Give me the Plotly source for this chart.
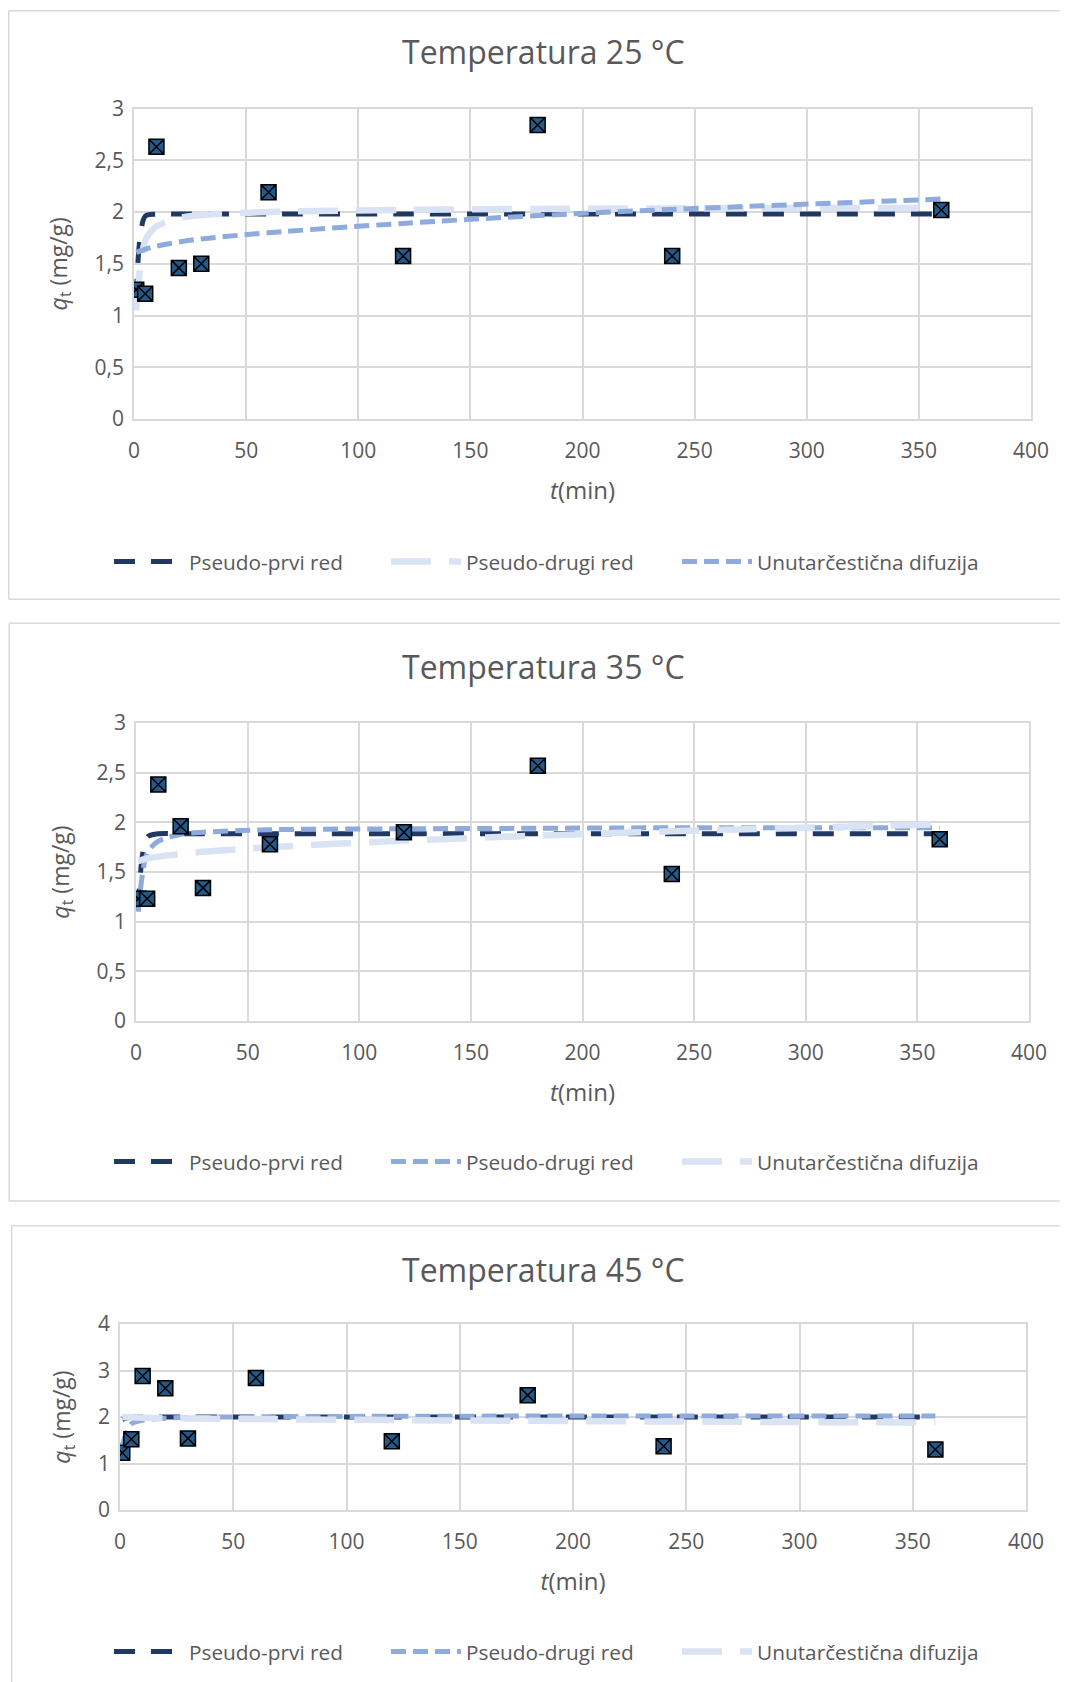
import plotly.graph_objects as go

# ---------------- data ----------------
t_exp = [1, 5, 10, 20, 30, 60, 120, 180, 240, 360]

q_exp_25 = [1.25, 1.21, 2.63, 1.46, 1.50, 2.19, 1.575, 2.84, 1.575, 2.02]
q_exp_35 = [1.23, 1.23, 2.38, 1.96, 1.34, 1.78, 1.90, 2.57, 1.48, 1.83]
q_exp_45 = [1.23, 1.52, 2.88, 2.62, 1.54, 2.84, 1.48, 2.47, 1.37, 1.30]

# model curves evaluated at the experimental times
pfo_25 = [1.15, 1.96, 1.98, 1.98, 1.98, 1.98, 1.98, 1.98, 1.98, 1.98]
pso_25 = [1.05, 1.72, 1.86, 1.94, 1.97, 2.00, 2.02, 2.03, 2.035, 2.04]
ipd_25 = [1.61, 1.64, 1.67, 1.71, 1.74, 1.80, 1.89, 1.965, 2.025, 2.125]

pfo_35 = [1.12, 1.85, 1.885, 1.885, 1.885, 1.885, 1.885, 1.885, 1.885, 1.885]
pso_35 = [1.10, 1.69, 1.81, 1.88, 1.90, 1.925, 1.935, 1.94, 1.945, 1.945]
ipd_35 = [1.61, 1.636, 1.655, 1.682, 1.703, 1.75, 1.816, 1.866, 1.909, 1.98]

pfo_45 = [1.95, 2.0, 2.0, 2.0, 2.0, 2.0, 2.0, 2.0, 2.0, 2.0]
pso_45 = [1.40, 1.85, 1.93, 1.975, 1.99, 2.005, 2.015, 2.02, 2.02, 2.02]
ipd_45 = [2.0, 1.992, 1.986, 1.977, 1.970, 1.955, 1.934, 1.917, 1.903, 1.88]

titles = ["Temperatura 25 °C", "Temperatura 35 °C", "Temperatura 45 °C"]
series_names = ["Pseudo-prvi red", "Pseudo-drugi red", "Unutarčestična difuzija"]

x_tickvals = [0, 50, 100, 150, 200, 250, 300, 350, 400]
x_ticklabels = ["0", "50", "100", "150", "200", "250", "300", "350", "400"]
y_tickvals_3 = [0, 0.5, 1, 1.5, 2, 2.5, 3]
y_ticklabels_3 = ["0", "0,5", "1", "1,5", "2", "2,5", "3"]
y_tickvals_4 = [0, 1, 2, 3, 4]
y_ticklabels_4 = ["0", "1", "2", "3", "4"]

# ---------------- styling / layout ----------------
PAGE_W, PAGE_H = 1068, 1682
OFF = 8  # default page body margin
W, H = PAGE_W - OFF, PAGE_H - OFF
FONT = "Open Sans"
GREY_TXT = "#595959"
GRID = "#D9D9D9"
DARK = "#203864"
MED = "#8FAADC"
LIGHT = "#DAE3F3"
MARK = "#245A8A"

STY_DARK = dict(color=DARK, width=5, dash="21px,16px")
STY_LIGHT = dict(color=LIGHT, width=6.5, dash="40px,18px")
STY_MED = dict(color=MED, width=5, dash="15px,7px")


def px_x(p):
    return (p - OFF) / W


def px_y(p):
    return 1 - (p - OFF) / H


# plot boxes in page px: left, right, top, bottom
boxes = [(134, 1031, 108.5, 419), (136, 1029, 723, 1021), (120, 1026, 1324, 1510)]
# frame: left, top, bottom (None = beyond the page)
frames = [(8.75, 10.7, 599.3), (9.2, 623.3, 1201), (11.7, 1225.7, None)]
title_y = [52, 667, 1269]
legend_y = [562, 1162, 1652]
legend_text_x = [189, 466, 757]

charts = [
    (q_exp_25, [(pfo_25, STY_DARK), (pso_25, STY_LIGHT), (ipd_25, STY_MED)], y_tickvals_3, y_ticklabels_3, 3),
    (q_exp_35, [(pfo_35, STY_DARK), (pso_35, STY_MED), (ipd_35, STY_LIGHT)], y_tickvals_3, y_ticklabels_3, 3),
    (q_exp_45, [(pfo_45, STY_DARK), (pso_45, STY_MED), (ipd_45, STY_LIGHT)], y_tickvals_4, y_ticklabels_4, 4),
]

fig = go.Figure()
layout = dict(
    width=W, height=H, margin=dict(l=0, r=0, t=0, b=0, autoexpand=False),
    paper_bgcolor="white", plot_bgcolor="white",
    font=dict(family=FONT, color=GREY_TXT),
    annotations=[], shapes=[],
)

for i, (qexp, models, ytv, ytl, ymax) in enumerate(charts):
    n = "" if i == 0 else str(i + 1)
    xref, yref = "x" + n, "y" + n
    for j, (name, (vals, sty)) in enumerate(zip(series_names, models)):
        k = 3 * i + j + 1
        leg = "legend" if k == 1 else "legend%d" % k
        fig.add_trace(go.Scatter(
            x=t_exp, y=vals, mode="lines", name=name, line=dict(shape="spline", smoothing=0.8, **sty),
            xaxis=xref, yaxis=yref, legend=leg, showlegend=True,
        ))
        layout[leg] = dict(
            orientation="h", x=px_x(legend_text_x[j] - 80), xanchor="left",
            y=px_y(legend_y[i]), yanchor="middle",
            font=dict(family=FONT, size=20.8, color=GREY_TXT), itemwidth=70,
            bgcolor="rgba(0,0,0,0)",
        )
    fig.add_trace(go.Scatter(
        x=t_exp, y=qexp, mode="markers", name="Eksperiment", showlegend=False,
        marker=dict(symbol="square-x", size=15, color=MARK, line=dict(color="black", width=1.5)),
        xaxis=xref, yaxis=yref,
    ))

    l, r, t, b = boxes[i]
    axis_common = dict(
        showgrid=True, gridcolor=GRID, gridwidth=1.5, zeroline=False,
        showline=True, linecolor=GRID, linewidth=1.5, mirror=True, automargin=False,
        ticks="", tickfont=dict(family=FONT, size=21, color=GREY_TXT), fixedrange=True,
    )
    layout["xaxis" + n] = dict(
        domain=[px_x(l), px_x(r)], range=[0, 400], anchor=yref,
        tickvals=x_tickvals, ticktext=x_ticklabels, ticklabelstandoff=12,
        title=dict(text="<i>t</i>(min)", font=dict(family=FONT, size=24, color=GREY_TXT), standoff=19),
        **axis_common,
    )
    layout["yaxis" + n] = dict(
        domain=[px_y(b), px_y(t)], range=[0, ymax], anchor=xref,
        tickvals=ytv, ticktext=ytl, ticklabelstandoff=4,
        title=dict(text="<i>q</i><sub>t</sub> (mg/g)", font=dict(family=FONT, size=23, color=GREY_TXT), standoff=21),
        **axis_common,
    )
    layout["annotations"].append(dict(
        text=titles[i], x=px_x(543), y=px_y(title_y[i]), xref="paper", yref="paper",
        xanchor="center", yanchor="middle", showarrow=False,
        font=dict(family=FONT, size=32, color=GREY_TXT),
    ))
    fx0, fy0, fy1 = frames[i]
    frame_line = dict(color=GRID, width=1.5)
    layout["shapes"].append(dict(type="line", xref="paper", yref="paper", layer="below",
                                 x0=px_x(fx0), x1=1, y0=px_y(fy0), y1=px_y(fy0), line=frame_line))
    layout["shapes"].append(dict(type="line", xref="paper", yref="paper", layer="below",
                                 x0=px_x(fx0), x1=px_x(fx0), y0=px_y(fy0),
                                 y1=px_y(fy1) if fy1 is not None else 0, line=frame_line))
    if fy1 is not None:
        layout["shapes"].append(dict(type="line", xref="paper", yref="paper", layer="below",
                                     x0=px_x(fx0), x1=1, y0=px_y(fy1), y1=px_y(fy1), line=frame_line))

fig.update_layout(**layout)
fig.write_html("out.html")
